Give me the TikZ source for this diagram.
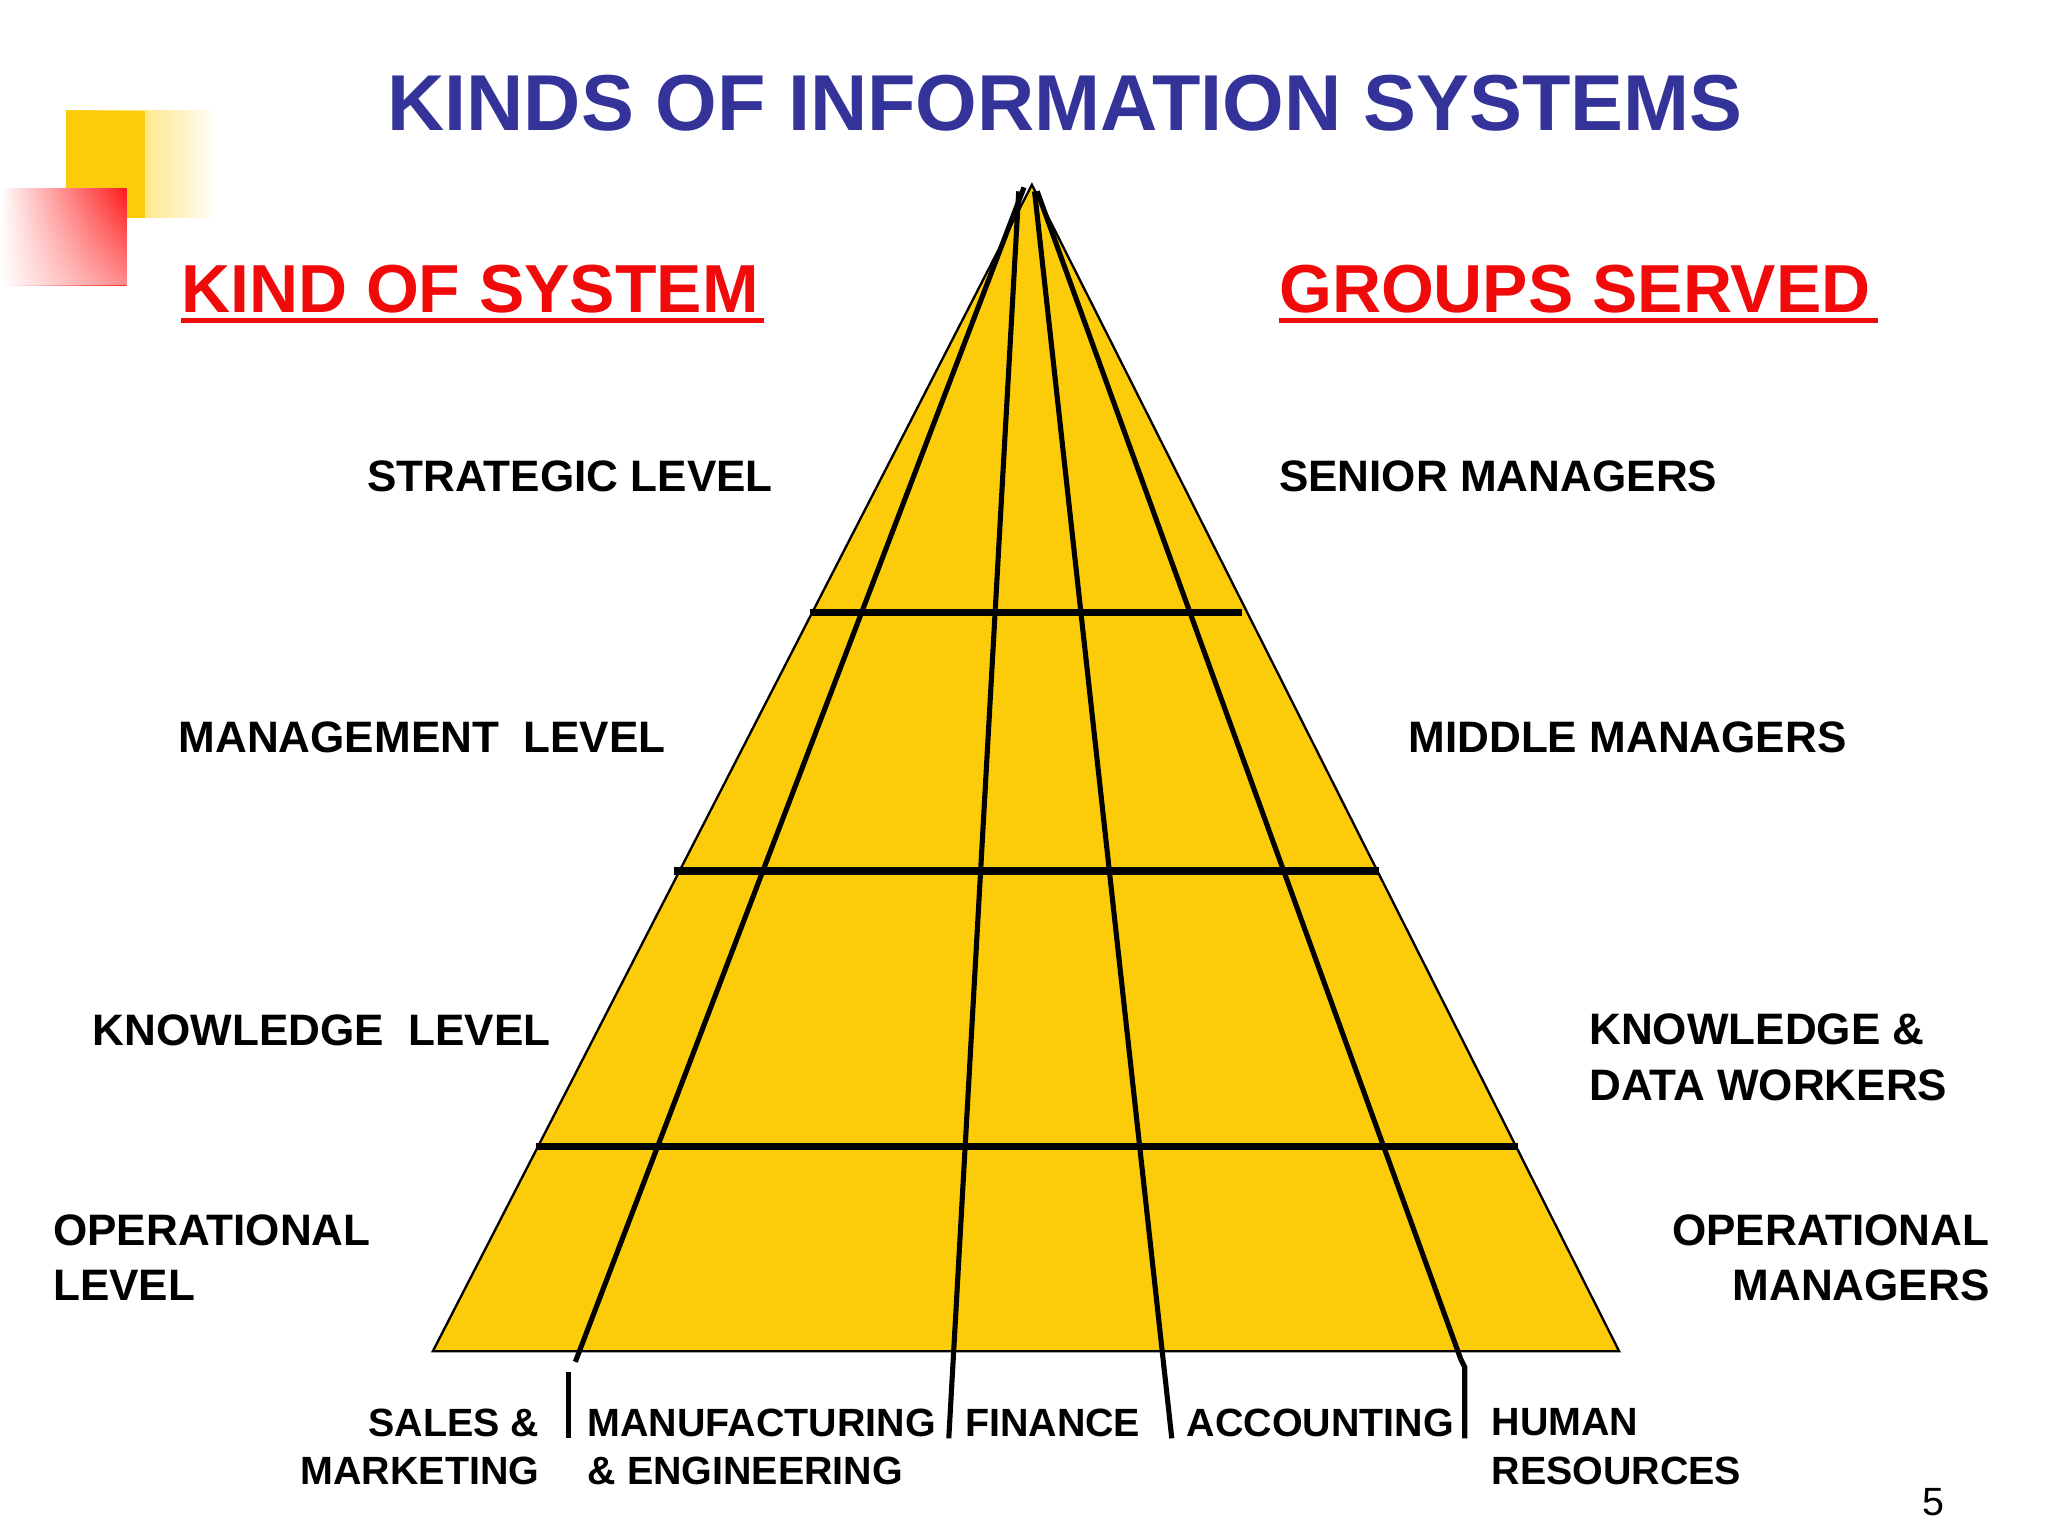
\documentclass[tikz,border=0pt]{standalone}
\usepackage{fontspec}
\setmainfont{Liberation Sans}
\usetikzlibrary{fadings}
\definecolor{pyr}{HTML}{FCCC0A}
\definecolor{ttl}{HTML}{333399}
\definecolor{hred}{HTML}{F00A0A}
\begin{document}
\begin{tikzpicture}[x=0.02cm,y=-0.02cm,
  lbl/.style={font=\fontsize{19}{23}\selectfont\bfseries,inner sep=0pt,align=left},
  bl/.style={font=\fontsize{17}{21}\selectfont\bfseries,inner sep=0pt},
  hd/.style={font=\fontsize{29.3}{34}\selectfont\bfseries,text=hred,inner sep=0pt},
  thick line/.style={line width=3.2pt},
  mid line/.style={line width=2.2pt}]
\useasboundingbox (0,0) rectangle (1552,1164);
\fill[white] (0,0) rectangle (1552,1164);
% decoration
\shade[left color=pyr,right color=white] (50,84) rectangle (165,165);
\fill[pyr] (50,84) rectangle (110,165);
\shade[left color=white,right color=red!90] (0,143) rectangle (96,216);
\fill[white,path fading=north,opacity=0.5] (0,143) rectangle (96,216);
% title
\node[font=\fontsize{34.2}{40}\selectfont\bfseries,text=ttl,inner sep=0pt] (t) at (807,78) {KINDS OF INFORMATION SYSTEMS};
\node[hd,anchor=west] (k) at (137,219) {KIND OF SYSTEM};
\draw[hred,line width=2.2pt] (137,243) -- (579,243);
\node[hd,anchor=west] (g) at (969,219) {GROUPS SERVED};
\draw[hred,line width=2.2pt] (969,243) -- (1423,243);
% pyramid
\coordinate (A) at (782,140);
\coordinate (BL) at (328,1024);
\coordinate (BR) at (1227,1024);
\filldraw[fill=pyr,draw=black,line width=1pt] (A) -- (BL) -- (BR) -- cycle;
\draw[thick line] (614,464) -- (941,464);
\draw[thick line] (511,660) -- (1045,660);
\draw[thick line] (406,869) -- (1150,869);
\coordinate (a1) at (776,142); \coordinate (b1) at (436,1032);
\coordinate (a2) at (772,145); \coordinate (b2) at (719,1090);
\coordinate (a3) at (784,145); \coordinate (b3) at (888,1090);
\coordinate (a4) at (786,145); \coordinate (b4) at (1107,1030);
\draw[mid line] (a1) -- (b1);
\draw[mid line] (a2) -- (b2);
\draw[mid line] (a3) -- (b3);
\draw[mid line] (a4) -- (b4);
\coordinate (c1) at (431,1040); \coordinate (d1) at (431,1090);
\coordinate (c4) at (1110,1036); \coordinate (d4) at (1110,1090);
\draw[mid line] (c1) -- (d1);
\draw[mid line] (b4) -- (c4) -- (d4);
% left labels
\node[lbl,anchor=west] (s) at (278,361) {STRATEGIC LEVEL};
\node[lbl,anchor=west] (m) at (135,559) {MANAGEMENT\ \ LEVEL};
\node[lbl,anchor=west] (kl) at (70,781) {KNOWLEDGE\ \ LEVEL};
\node[lbl,anchor=north west] (o) at (40,920) {OPERATIONAL\\[1pt]LEVEL};
% right labels
\node[lbl,anchor=west] (sm) at (969,361) {SENIOR MANAGERS};
\node[lbl,anchor=west] (mm) at (1067,559) {MIDDLE MANAGERS};
\node[lbl,anchor=north west] (kd) at (1204,768) {KNOWLEDGE \&\\[1pt]DATA WORKERS};
\node[lbl,anchor=north east,align=right] (om) at (1508,920) {OPERATIONAL\\[1pt]MANAGERS};
% bottom labels
\node[bl,anchor=north east,align=right] (b_s) at (409,1067) {SALES \&\\[0pt]MARKETING};
\node[bl,anchor=north west,align=left] (b_m) at (445,1067) {MANUFACTURING\\[0pt]\& ENGINEERING};
\node[bl,anchor=north west] (b_f) at (731,1067) {FINANCE};
\node[bl,anchor=north west] (b_a) at (899,1067) {ACCOUNTING};
\node[bl,anchor=north west,align=left] (b_h) at (1130,1067) {HUMAN\\[0pt]RESOURCES};
\node[font=\fontsize{17}{20}\selectfont,inner sep=0pt] (pg) at (1465,1138) {5};
\end{tikzpicture}
\end{document}
